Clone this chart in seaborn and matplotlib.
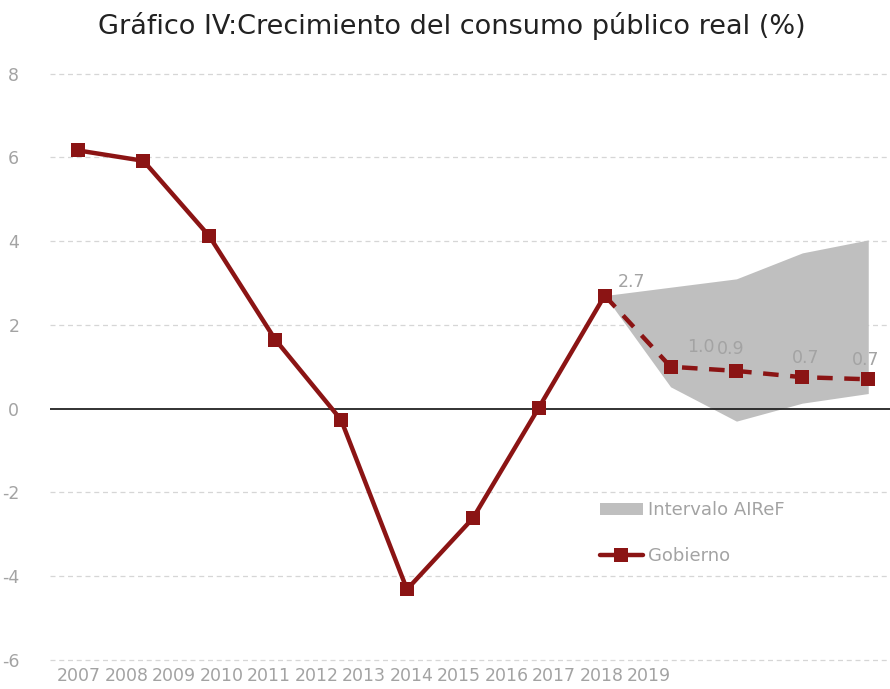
import numpy as np
import pandas as pd
import seaborn as sns
import matplotlib.pyplot as plt
from matplotlib.patches import Patch
from matplotlib.lines import Line2D

# Data
years = [str(y) for y in range(2007, 2020)]
gobierno = [6.17, 5.92, 4.12, 1.65, -0.27, -4.32, -2.62, 0.02, 2.7, 1.0, 0.9, 0.75, 0.7]
band_upper = [2.7, 2.9, 3.1, 3.72, 4.03]
band_lower = [2.7, 0.52, -0.3, 0.13, 0.36]
labels_shown = ["2.7", "1.0", "0.9", "0.7", "0.7"]
y_ticks = [-6, -4, -2, 0, 2, 4, 6, 8]

red = "#8b1414"
grey_txt = "#a3a3a3"

sns.set_theme(style="white")
plt.rcParams['font.family'] = ['DejaVu Sans']

df = pd.DataFrame({"idx": np.arange(len(gobierno)), "valor": gobierno})
hist = df.iloc[:9]
fcst = df.iloc[8:]

fig = plt.figure(figsize=(8.9, 6.89), dpi=100)
ax = fig.add_axes([0.056, 0.034, 0.944, 0.879])

# AIReF interval
ax.fill_between(fcst["idx"], band_lower, band_upper, color="#bfbfbf", lw=0, zorder=1)

ax.axhline(0, color="#222222", lw=1.3, zorder=2)

sns.lineplot(data=hist, x="idx", y="valor", color=red, lw=3.2, marker="s",
             markersize=10, markeredgewidth=0, ax=ax, zorder=4)
sns.lineplot(data=fcst, x="idx", y="valor", color=red, lw=3.2, marker="s",
             markersize=10, markeredgewidth=0, ax=ax, zorder=4,
             linestyle=(0, (3.5, 2.6)))

# data labels for forecast points
offsets = [(19, 10), (22, 14), (-4, 16), (2, 14), (-2, 14)]
for lab, (xx, yy), off in zip(labels_shown, zip(fcst["idx"], fcst["valor"]), offsets):
    ax.annotate(lab, (xx, yy), xytext=off, textcoords="offset points",
                color=grey_txt, fontsize=12.5, ha="center", va="center", zorder=5)

ax.set_ylim(-6.14, 8.33)
ax.set_xlim(-0.42, 12.33)
ax.set_yticks(y_ticks)
ax.set_yticklabels([str(t) for t in y_ticks], color=grey_txt, fontsize=12.5)
for t in y_ticks:
    if t != 0:
        ax.axhline(t, color="#d6d6d6", lw=0.9, ls=(0, (4, 3)), zorder=0)

# category labels sit compressed on the left, as in the original
step = 47.6 / 66.0
ax.set_xticks([0.02 + i * step for i in range(len(years))])
ax.set_xticklabels(years, color=grey_txt, fontsize=12.5)
ax.tick_params(axis="both", length=0)
ax.tick_params(axis="x", pad=1)
ax.tick_params(axis="y", pad=22)
ax.set_xlabel("")
ax.set_ylabel("")
for s in ax.spines.values():
    s.set_visible(False)

handles = [Patch(facecolor="#bfbfbf", edgecolor="none", label="Intervalo AIReF"),
           Line2D([0], [0], color=red, lw=3.2, marker="s", markersize=10,
                  markeredgewidth=0, label="Gobierno")]
leg = ax.legend(handles=handles, loc="upper left", bbox_to_anchor=(0.635, 0.298),
                frameon=False, fontsize=13, labelcolor=grey_txt,
                handlelength=2.4, handletextpad=0.3, labelspacing=1.55)

fig.text(0.508, 0.962, "Gráfico IV:Crecimiento del consumo público real (%)",
         fontsize=19.5, color="#222222", ha="center", va="center")

fig.savefig("out.png", dpi=100)
